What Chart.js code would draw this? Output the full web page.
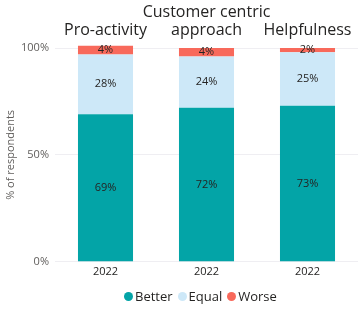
<!DOCTYPE html>
<html>
<head>
<meta charset="utf-8">
<script src="https://cdn.jsdelivr.net/npm/chart.js@4/dist/chart.umd.min.js"></script>
<style>
  html, body { margin: 0; padding: 0; background: #fff; }
  #wrap { width: 358px; height: 328px; position: relative; }
  #legend {
    position: absolute; left: 124px; top: 287px;
    display: flex; align-items: center;
    font: 13px 'Open Sans', 'Noto Sans', sans-serif; color: #252423;
  }
  #legend span.item { display: flex; align-items: center; margin-right: 5px; }
  #legend i { display: inline-block; width: 9px; height: 9px; border-radius: 50%; margin-right: 2px; }
</style>
</head>
<body>
<div id="wrap"><canvas id="chart"></canvas><div id="legend"></div></div>
<script>
// small multiples: one stacked bar per question, 2022 survey
const panelTitles = [['Pro-activity'], ['Customer centric', 'approach'], ['Helpfulness']];
const years = ['2022', '2022', '2022'];
const better = [69, 72, 73];
const equal = [28, 24, 25];
const worse = [4, 4, 2];
const yTicks = [0, 50, 100];

const FONT = "'Open Sans', 'Noto Sans', sans-serif";

// question titles above each bar
const panelTitlePlugin = {
    id: 'panelTitles',
    afterDraw(chart) {
        const ctx = chart.ctx;
        const x = chart.scales.x;
        ctx.save();
        ctx.font = '16px ' + FONT;
        ctx.fillStyle = '#252423';
        ctx.textAlign = 'center';
        ctx.textBaseline = 'alphabetic';
        panelTitles.forEach((lines, i) => {
            const cx = x.getPixelForValue(i);
            lines.forEach((line, j) => {
                const y = 35 - (lines.length - 1 - j) * 18;
                ctx.fillText(line, cx, y);
            });
        });
        ctx.restore();
    }
};

// percentage labels inside the segments
const segmentLabels = {
    id: 'segmentLabels',
    afterDatasetsDraw(chart) {
        const ctx = chart.ctx;
        ctx.save();
        ctx.font = '11px ' + FONT;
        ctx.fillStyle = '#252423';
        ctx.textAlign = 'center';
        ctx.textBaseline = 'middle';
        chart.data.datasets.forEach((ds, d) => {
            chart.getDatasetMeta(d).data.forEach((bar, i) => {
                const mid = (bar.y + bar.base) / 2;
                ctx.fillText(ds.data[i] + '%', bar.x, mid);
            });
        });
        ctx.restore();
    }
};

const chart = new Chart(document.querySelector('#chart'), {
    type: 'bar',
    data: {
        labels: years,
        datasets: [
            { label: 'Better', data: better, backgroundColor: '#03A4A7' },
            { label: 'Equal', data: equal, backgroundColor: '#CDE8F8' },
            { label: 'Worse', data: worse, backgroundColor: '#F8695B' }
        ]
    },
    options: {
        responsive: true,
        maintainAspectRatio: false,
        animation: false,
        layout: { padding: { top: 48, right: 0, bottom: 47 } },
        datasets: {
            bar: { barPercentage: 1, categoryPercentage: 0.545, clip: false }
        },
        scales: {
            x: {
                stacked: true,
                grid: { display: false, drawTicks: false },
                border: { display: false },
                ticks: { color: '#252423', font: { family: FONT, size: 11 }, padding: 3 }
            },
            y: {
                stacked: true,
                min: 0,
                max: 100,
                afterBuildTicks(scale) {
                    scale.ticks = yTicks.map(v => ({ value: v }));
                },
                afterFit(scale) { scale.width = 55; },
                grid: { color: '#EFEEF2', drawTicks: false },
                border: { display: false },
                ticks: {
                    color: '#605E5C',
                    font: { family: FONT, size: 11 },
                    padding: 6,
                    callback: v => v + '%'
                },
                title: {
                    display: true,
                    text: '% of respondents',
                    color: '#605E5C',
                    font: { family: FONT, size: 11 },
                    padding: { top: 4, bottom: 0 }
                }
            }
        },
        plugins: {
            legend: { display: false },
            tooltip: { enabled: false }
        }
    },
    plugins: [panelTitlePlugin, segmentLabels]
});

// legend under the chart
const legend = document.querySelector('#legend');
chart.data.datasets.forEach(ds => {
    const item = document.createElement('span');
    item.className = 'item';
    item.innerHTML = '<i style="background:' + ds.backgroundColor + '"></i>' + ds.label;
    legend.appendChild(item);
});
</script>
</body>
</html>
